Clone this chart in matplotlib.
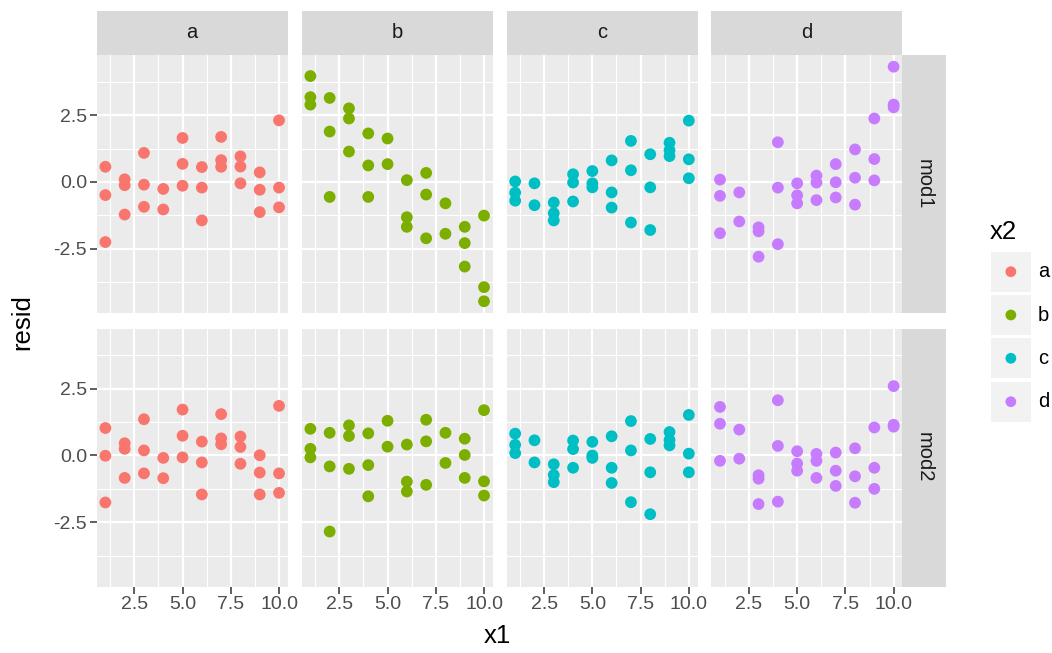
import numpy as np
import matplotlib
matplotlib.use("Agg")
import matplotlib.pyplot as plt

plt.rcParams['font.family'] = ['Liberation Sans', 'DejaVu Sans']

groups = ['a', 'b', 'c', 'd']
models = ['mod1', 'mod2']
colors = {'a': '#F8766D', 'b': '#7CAE00', 'c': '#00BFC4', 'd': '#C77CFF'}

# x1 values and residuals, one pair of lists per panel
x_a1 = [1,1,1, 2,2,2, 3,3,3, 4,4, 5,5,5, 6,6,6, 7,7,7, 8,8,8, 9,9,9, 10,10,10]
r_a1 = [0.57,-0.49,-2.25, 0.10,-0.12,-1.22, 1.09,-0.10,-0.93, -0.26,-1.03, 1.65,0.68,-0.14,
        0.56,-0.21,-1.44, 1.69,0.82,0.57, 0.96,0.58,-0.05, 0.36,-0.29,-1.13, 2.31,-0.21,-0.95]
x_b1 = [1,1,1, 2,2,2, 3,3,3, 4,4,4, 5,5, 6,6,6, 7,7,7, 8,8, 9,9,9, 10,10,10]
r_b1 = [3.97,3.18,2.90, 3.15,1.89,-0.56, 2.76,2.38,1.14, 1.82,0.62,-0.56, 1.63,0.67,
        0.07,-1.32,-1.68, 0.34,-0.47,-2.11, -0.80,-1.94, -1.68,-2.29,-3.17, -1.26,-3.94,-4.47]
x_c1 = [1,1,1, 2,2, 3,3,3, 4,4,4, 5,5,5, 6,6,6, 7,7,7, 8,8,8, 9,9,9, 10,10,10]
r_c1 = [0.02,-0.40,-0.70, -0.05,-0.87, -0.77,-1.17,-1.44, 0.29,-0.02,-0.73, 0.41,-0.05,-0.20,
        0.81,-0.39,-0.96, 1.54,0.44,-1.52, 1.04,-0.20,-1.80, 1.47,1.19,0.97, 2.30,0.85,0.14]
x_d1 = [1,1,1, 2,2, 3,3,3, 4,4,4, 5,5,5, 6,6,6, 7,7,7, 8,8,8, 9,9,9, 10,10,10]
r_d1 = [0.09,-0.52,-1.92, -0.39,-1.48, -1.70,-1.85,-2.80, 1.49,-0.21,-2.33, -0.05,-0.50,-0.80,
        0.24,-0.02,-0.68, 0.67,-0.01,-0.58, 1.22,0.16,-0.85, 2.38,0.86,0.06, 4.32,2.90,2.80]

x_a2 = [1,1,1, 2,2,2, 3,3,3, 4,4, 5,5,5, 6,6,6, 7,7,7, 8,8,8, 9,9,9, 10,10,10]
r_a2 = [1.03,-0.01,-1.76, 0.46,0.25,-0.84, 1.36,0.19,-0.67, -0.09,-0.85, 1.72,0.74,-0.07,
        0.52,-0.26,-1.46, 1.55,0.64,0.42, 0.71,0.32,-0.31, 0.01,-0.64,-1.46, 1.86,-0.67,-1.40]
x_b2 = [1,1,1, 2,2,2, 3,3,3, 4,4,4, 5,5, 6,6,6, 7,7,7, 8,8, 9,9,9, 10,10,10]
r_b2 = [1.00,0.25,-0.07, 0.85,-0.41,-2.85, 1.13,0.73,-0.50, 0.83,-0.36,-1.53, 1.30,0.33,
        0.41,-0.98,-1.35, 1.34,0.53,-1.10, 0.85,-0.28, 0.63,0.02,-0.84, 1.70,-0.97,-1.50]
x_c2 = [1,1,1, 2,2, 3,3,3, 4,4,4, 5,5,5, 6,6,6, 7,7,7, 8,8,8, 9,9,9, 10,10,10]
r_c2 = [0.82,0.40,0.09, 0.57,-0.26, -0.33,-0.73,-1.00, 0.56,0.24,-0.46, 0.51,0.00,-0.09,
        0.72,-0.46,-1.03, 1.29,0.19,-1.75, 0.62,-0.63,-2.20, 0.88,0.58,0.38, 1.52,0.07,-0.63]
x_d2 = [1,1,1, 2,2, 3,3,3, 4,4,4, 5,5,5, 6,6,6, 7,7,7, 8,8,8, 9,9,9, 10,10,10]
r_d2 = [1.82,1.19,-0.20, 0.97,-0.12, -0.74,-0.87,-1.82, 2.07,0.36,-1.73, 0.16,-0.30,-0.57,
        0.06,-0.20,-0.84, 0.11,-0.57,-1.14, 0.27,-0.78,-1.77, 1.05,-0.46,-1.25, 2.60,1.15,1.08]

panels = {
    ('mod1', 'a'): (x_a1, r_a1), ('mod1', 'b'): (x_b1, r_b1),
    ('mod1', 'c'): (x_c1, r_c1), ('mod1', 'd'): (x_d1, r_d1),
    ('mod2', 'a'): (x_a2, r_a2), ('mod2', 'b'): (x_b2, r_b2),
    ('mod2', 'c'): (x_c2, r_c2), ('mod2', 'd'): (x_d2, r_d2),
}

x_ticks = [2.5, 5.0, 7.5, 10.0]
x_tick_labels = ['2.5', '5.0', '7.5', '10.0']
y_ticks = [-2.5, 0.0, 2.5]
y_tick_labels = ['-2.5', '0.0', '2.5']

# ggplot-like 5% expansion
all_x = np.concatenate([np.array(v[0], float) for v in panels.values()])
all_y = np.concatenate([np.array(v[1], float) for v in panels.values()])
xr = all_x.max() - all_x.min()
yr = all_y.max() - all_y.min()
xlim = (all_x.min() - 0.05 * xr, all_x.max() + 0.05 * xr)
ylim = (all_y.min() - 0.05 * yr, all_y.max() + 0.05 * yr)

W, H = 1052, 653
fig = plt.figure(figsize=(W / 100, H / 100), dpi=100)


def box(x0, y0, x1, y1):
    return [x0 / W, 1 - y1 / H, (x1 - x0) / W, (y1 - y0) / H]


def strip(rect):
    sa = fig.add_axes(rect)
    sa.set_facecolor('#D9D9D9')
    sa.set_xticks([]); sa.set_yticks([])
    for s in sa.spines.values():
        s.set_visible(False)
    return sa


col_left = [96.7, 301.7, 506.5, 711.3]
col_w = 191
row_top = [55, 328.5]
row_h = 258

tick_col = '#4D4D4D'
for i, m in enumerate(models):
    for j, g in enumerate(groups):
        x0 = col_left[j]
        y0 = row_top[i]
        ax = fig.add_axes(box(x0, y0, x0 + col_w, y0 + row_h))
        ax.set_facecolor('#EBEBEB')
        for s in ax.spines.values():
            s.set_visible(False)
        ax.set_xlim(*xlim)
        ax.set_ylim(*ylim)
        ax.set_xticks(x_ticks)
        ax.set_yticks(y_ticks)
        ax.set_xticks([1.25, 3.75, 6.25, 8.75], minor=True)
        ax.set_yticks([-3.75, -1.25, 1.25, 3.75], minor=True)
        ax.grid(which='major', color='white', linewidth=1.6)
        ax.grid(which='minor', color='white', linewidth=0.8)
        ax.set_axisbelow(True)
        ax.tick_params(which='minor', length=0)
        ax.tick_params(which='major', length=5, width=1.1, color='#333333',
                       labelsize=14, labelcolor=tick_col, pad=2)
        if j == 0:
            ax.set_yticklabels(y_tick_labels)
        else:
            ax.tick_params(axis='y', length=0, labelleft=False)
        if i == 1:
            ax.set_xticklabels(x_tick_labels)
        else:
            ax.tick_params(axis='x', length=0, labelbottom=False)
        xs, ys = panels[(m, g)]
        ax.scatter(xs, ys, s=72, color=colors[g], edgecolors='none', zorder=3)

        if i == 0:
            sa = strip(box(x0, 11, x0 + col_w, 55))
            sa.text(0.5, 0.5, g, ha='center', va='center', fontsize=14.5, color='#1A1A1A',
                    transform=sa.transAxes)
    ra = strip(box(902, row_top[i], 946, row_top[i] + row_h))
    ra.text(0.5, 0.5, m, ha='center', va='center', fontsize=14.5, color='#1A1A1A',
            rotation=-90, transform=ra.transAxes)

fig.text(22 / W, 1 - 322 / H, 'resid', rotation=90, ha='center', va='center', fontsize=18.5)
fig.text(497 / W, 1 - 636 / H, 'x1', ha='center', va='center', fontsize=18.5)

# legend
fig.text(990 / W, 1 - 232 / H, 'x2', ha='left', va='center', fontsize=18.5)
key_top = [251.7, 295.0, 338.3, 381.7]
for g, kt in zip(groups, key_top):
    ka = fig.add_axes(box(990.7, kt, 1031, kt + 40))
    ka.set_xlim(0, 1); ka.set_ylim(0, 1)
    ka.set_facecolor('#F2F2F2')
    ka.set_xticks([]); ka.set_yticks([])
    for s in ka.spines.values():
        s.set_visible(False)
    ka.scatter([0.5], [0.5], s=60, color=colors[g], edgecolors='none')
    fig.text(1038 / W, 1 - (kt + 20) / H, g, ha='left', va='center', fontsize=14.5)

fig.savefig('out.png', dpi=100)
